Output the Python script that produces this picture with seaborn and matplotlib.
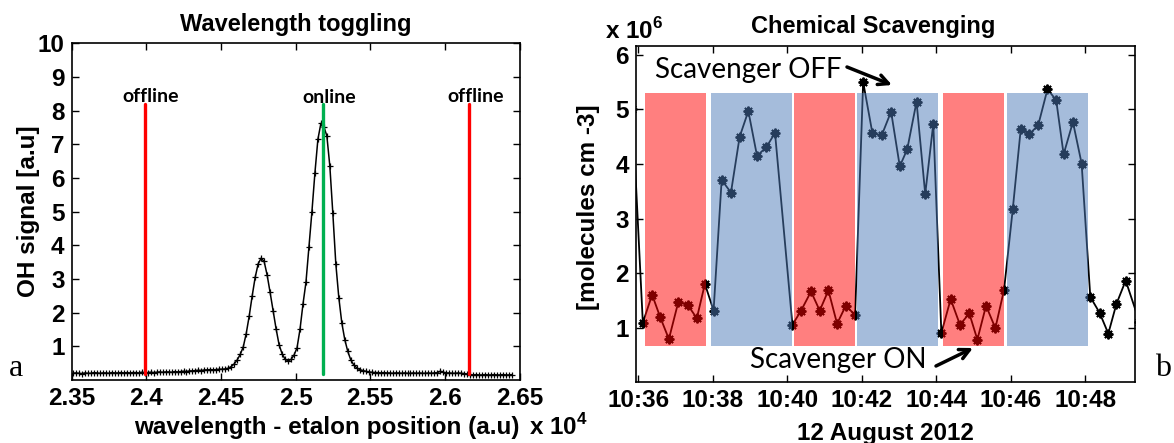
import numpy as np
import pandas as pd
import matplotlib
matplotlib.use("Agg")
import matplotlib.pyplot as plt
import matplotlib.dates as mdates
import seaborn as sns

# ---------------------------------------------------------------- data (a)
# OH fluorescence signal recorded while the etalon is scanned in equal steps
scan_start = 23510
scan_step = 20
oh_signal = [
    0.20, 0.21, 0.20, 0.19, 0.21, 0.20, 0.20, 0.22, 0.21, 0.20,
    0.21, 0.21, 0.20, 0.22, 0.21, 0.21, 0.22, 0.21, 0.22, 0.21,
    0.22, 0.22, 0.21, 0.23, 0.22, 0.22, 0.23, 0.22, 0.23, 0.24,
    0.23, 0.24, 0.24, 0.23, 0.25, 0.24, 0.25, 0.26, 0.25, 0.27,
    0.27, 0.28, 0.29, 0.28, 0.30, 0.30, 0.31, 0.30, 0.31, 0.32,
    0.32,
    0.33, 0.35, 0.40, 0.48, 0.60, 0.76, 0.98, 1.38, 1.90, 2.50,
    3.05, 3.45, 3.62, 3.52, 3.12, 2.60, 2.05, 1.52, 1.05, 0.78,
    0.62, 0.57, 0.61, 0.74, 0.95, 1.50, 2.25, 2.90, 3.95, 5.00,
    6.15, 7.15, 7.62, 7.52, 7.25, 6.35, 4.95, 3.45, 2.45, 1.70,
    1.20, 0.85, 0.60, 0.45, 0.36, 0.31, 0.28, 0.26, 0.24, 0.23,
    0.22, 0.22, 0.21, 0.22, 0.21, 0.21, 0.20, 0.21, 0.21, 0.20,
    0.21, 0.20, 0.20, 0.21, 0.20, 0.21, 0.20, 0.20, 0.21, 0.20,
    0.21, 0.22, 0.26, 0.23, 0.21, 0.21, 0.20, 0.20, 0.21, 0.20,
    0.19, 0.18, 0.16, 0.15, 0.16, 0.15, 0.15, 0.16, 0.15, 0.15,
    0.16, 0.15, 0.15, 0.16, 0.15, 0.15, 0.16,
]
scan_pos = scan_start + scan_step * np.arange(len(oh_signal))

offline_pos = [23990, 26165]
online_pos = 25185
marker_line_span = (0.17, 8.2)
x_ticks_a = [23500, 24000, 24500, 25000, 25500, 26000, 26500]
x_ticklabels_a = ["2.35", "2.4", "2.45", "2.5", "2.55", "2.6", "2.65"]

# ---------------------------------------------------------------- data (b)
# OH concentration (x 10^6 molecules cm-3), 12 August 2012
sample_time = [
    "10:35:50", "10:36:07", "10:36:22", "10:36:35", "10:36:49", "10:37:04",
    "10:37:19", "10:37:34", "10:37:47", "10:38:01", "10:38:14", "10:38:29",
    "10:38:43", "10:38:57", "10:39:11", "10:39:26", "10:39:40", "10:40:08",
    "10:40:22", "10:40:38", "10:40:52", "10:41:06", "10:41:20", "10:41:34",
    "10:41:49", "10:42:02", "10:42:17", "10:42:32", "10:42:47", "10:43:01",
    "10:43:13", "10:43:28", "10:43:42", "10:43:55", "10:44:08", "10:44:23",
    "10:44:38", "10:44:53", "10:45:06", "10:45:20", "10:45:35", "10:45:49",
    "10:46:03", "10:46:16", "10:46:30", "10:46:44", "10:46:59", "10:47:13",
    "10:47:25", "10:47:40", "10:47:54", "10:48:08", "10:48:23", "10:48:37",
    "10:48:50", "10:49:05", "10:49:27",
]
oh_conc = [
    5.00, 1.10, 1.61, 1.20, 0.80, 1.47,
    1.43, 1.18, 1.81, 1.32, 3.71, 3.48,
    4.50, 4.97, 4.15, 4.31, 4.57, 1.06,
    1.32, 1.67, 1.32, 1.69, 1.08, 1.41,
    1.24, 5.50, 4.56, 4.53, 4.96, 3.96,
    4.27, 5.14, 3.45, 4.74, 0.91, 1.53,
    1.06, 1.27, 0.79, 1.41, 1.00, 1.70,
    3.17, 4.65, 4.55, 4.71, 5.37, 5.17,
    4.18, 4.77, 4.01, 1.57, 1.28, 0.90,
    1.44, 1.87, 1.12,
]
scavenger_on = [("10:36:11", "10:37:49"), ("10:40:11", "10:41:49"),
                ("10:44:11", "10:45:49")]
scavenger_off = [("10:37:57", "10:40:08"), ("10:41:52", "10:44:02"),
                 ("10:45:54", "10:48:04")]
period_span = (0.68, 5.30)
day = "2012-08-12 "

# ---------------------------------------------------------------- style
sns.set_theme(style="ticks")
plt.rcParams["font.family"] = ["Liberation Sans", "DejaVu Sans"]
plt.rcParams.update({
    "font.weight": "bold",
    "axes.labelweight": "bold",
    "axes.titleweight": "bold",
    "axes.edgecolor": "black",
    "axes.linewidth": 1.2,
    "xtick.color": "black",
    "ytick.color": "black",
    "xtick.direction": "in",
    "ytick.direction": "in",
    "xtick.top": True,
    "ytick.right": True,
    "xtick.major.size": 5,
    "ytick.major.size": 5,
    "xtick.major.width": 1.0,
    "ytick.major.width": 1.0,
    "text.color": "black",
    "axes.labelcolor": "black",
    "mathtext.fontset": "custom",
    "mathtext.rm": "Liberation Sans:bold",
    "mathtext.bf": "Liberation Sans:bold",
})

W, H = 1174, 443
fig = plt.figure(figsize=(W / 100, H / 100), dpi=100)
fig.patch.set_facecolor("white")


def fx(px):
    return px / W


def fy(py):
    return 1 - py / H


TICK_FS = 17.5
LABEL_FS = 17.5
TITLE_FS = 17

# ---------------------------------------------------------------- panel a
ax1 = fig.add_axes([fx(71.5), fy(380), 448 / W, 336.7 / H])
ax1.set_facecolor("white")
sns.lineplot(x=scan_pos, y=oh_signal, ax=ax1, color="black", lw=1.1,
             marker="+", markersize=4.5, markeredgewidth=0.9,
             markeredgecolor="black", zorder=2)
label_font = dict(family=["Lato", "DejaVu Sans"], fontweight="bold",
                  fontsize=14, ha="center", va="center")
for p in offline_pos:
    ax1.plot([p, p], marker_line_span, color="#FF0000", lw=2.4, zorder=3)
    ax1.text(p + 40, 8.42, "offline", **label_font)
ax1.plot([online_pos, online_pos], marker_line_span, color="#00B050", lw=2.4,
         zorder=3)
ax1.text(online_pos + 40, 8.38, "online", **label_font)

ax1.set_xlim(23500, 26500)
ax1.set_ylim(0, 10)
ax1.set_xticks(x_ticks_a)
ax1.set_xticklabels(x_ticklabels_a)
ax1.set_yticks(range(1, 11))
ax1.tick_params(labelsize=TICK_FS, pad=5)
ax1.set_title("Wavelength toggling", fontsize=TITLE_FS, pad=9)
ax1.set_xlabel("wavelength - etalon position (a.u)", fontsize=LABEL_FS)
ax1.xaxis.set_label_coords(0.57, -0.14)
ax1.xaxis.label.set_va("center")
ax1.set_ylabel("OH signal [a.u]", fontsize=LABEL_FS)
ax1.yaxis.set_label_coords(-0.097, 0.5)
ax1.yaxis.label.set_va("center")

fig.text(fx(529), fy(427), r"x 10$^{\mathbf{4}}$", fontsize=TICK_FS,
         fontweight="bold", ha="left", va="center")
fig.text(fx(16), fy(369), "a", family=["Liberation Serif"], fontsize=23,
         fontweight="normal", ha="center", va="center")

# ---------------------------------------------------------------- panel b
ax2 = fig.add_axes([fx(636), fy(381.7), 499 / W, 335.7 / H])
ax2.set_facecolor("white")
t_b = pd.to_datetime([day + s for s in sample_time])
# asterisk markers (8 spokes) on a black trace; the shaded periods sit on top
sns.lineplot(x=t_b, y=oh_conc, ax=ax2, color="black", lw=1.3,
             marker=(8, 2, 0), markersize=7, markeredgewidth=1.4,
             markeredgecolor="black", zorder=2)
for s, e in scavenger_on:
    ax2.fill_between(pd.to_datetime([day + s, day + e]), *period_span,
                     color="#FF0000", alpha=0.5, lw=0, zorder=3)
for s, e in scavenger_off:
    ax2.fill_between(pd.to_datetime([day + s, day + e]), *period_span,
                     color=(0.30, 0.48, 0.72), alpha=0.5, lw=0, zorder=3)

ax2.set_xlim(pd.Timestamp(day + "10:35:56"), pd.Timestamp(day + "10:49:20"))
ax2.set_ylim(0.02, 6.16)
ax2.set_yticks(range(1, 7))
ax2.xaxis.set_major_locator(mdates.MinuteLocator(byminute=range(36, 50, 2)))
ax2.xaxis.set_major_formatter(mdates.DateFormatter("%H:%M"))
ax2.tick_params(labelsize=TICK_FS, pad=5)
ax2.set_title("Chemical Scavenging", fontsize=TITLE_FS, pad=9, x=0.475)
ax2.set_xlabel("12 August 2012", fontsize=LABEL_FS)
ax2.xaxis.set_label_coords(0.5, -0.153)
ax2.xaxis.label.set_va("center")
ax2.set_ylabel("[molecules cm -3]", fontsize=LABEL_FS)
ax2.yaxis.set_label_coords(-0.095, 0.52)
ax2.yaxis.label.set_va("center")

fig.text(fx(605), fy(31), r"x 10$^{\mathbf{6}}$", fontsize=TICK_FS,
         fontweight="bold", ha="left", va="center")

note_font = dict(family=["Lato", "DejaVu Sans"], fontweight="normal",
                 fontsize=20)
fig.text(fx(748), fy(70), "Scavenger OFF", ha="center", va="center",
         **note_font)
fig.text(fx(838), fy(360), "Scavenger ON", ha="center", va="center",
         **note_font)
arrow = dict(arrowstyle="->", lw=2.5, color="black", mutation_scale=18,
             shrinkA=0, shrinkB=0)
ax2.annotate("", xy=(fx(892), fy(85)), xytext=(fx(847), fy(67)),
             xycoords="figure fraction", textcoords="figure fraction",
             arrowprops=arrow, annotation_clip=False)
ax2.annotate("", xy=(fx(973), fy(348)), xytext=(fx(936), fy(366)),
             xycoords="figure fraction", textcoords="figure fraction",
             arrowprops=arrow, annotation_clip=False)
fig.text(fx(1163), fy(368), "b", family=["Liberation Serif"], fontsize=23,
         fontweight="normal", ha="center", va="center")

fig.savefig("out.png", dpi=100, facecolor="white")
